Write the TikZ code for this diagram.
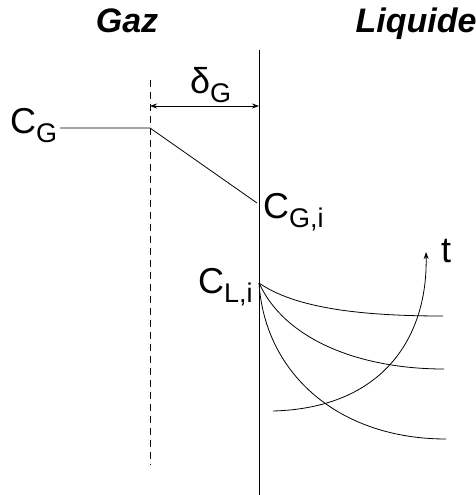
\documentclass[tikz,border=0pt]{standalone}
\usepackage{fontspec}
\setmainfont{Liberation Sans}
\usetikzlibrary{arrows.meta}
\newcommand{\lbl}[2]{\fontsize{36}{40}\selectfont #1\raisebox{-0.26em}{\fontsize{27}{30}\selectfont #2}}
\begin{document}
\begin{tikzpicture}[x=1pt,y=-1pt,
  ln/.style={line width=0.8pt,black},
  title/.style={font=\fontsize{34}{36}\selectfont\bfseries\itshape,inner sep=0pt,anchor=base},
  lab/.style={inner sep=0pt,anchor=base west},
  tip/.style={-{Stealth[length=7pt,width=5pt]}}]
\useasboundingbox (0,0) rectangle (476,495);
\node[title] (gaz) at (127,33) {Gaz};
\node[title] (liq) at (416,33) {Liquide};
% interface and film boundary
\coordinate (itop) at (259,50);
\coordinate (ibot) at (259,495);
\coordinate (ftop) at (150,80);
\coordinate (fbot) at (150,465);
\draw[ln] (itop) -- (ibot);
\draw[ln,dash pattern=on 7pt off 5pt] (ftop) -- (fbot);
% film thickness
\coordinate (dl) at (150,106);
\coordinate (dr) at (259,106);
\draw[ln,{Stealth[length=7pt,width=5pt]}-{Stealth[length=7pt,width=5pt]}] (dl) -- (dr);
\node[lab] (delta) at (190,93) {\lbl{δ}{G}};
% gas profile
\node[lab] (cg) at (10,133) {\lbl{C}{G}};
\coordinate (g0) at (60,128);
\coordinate (g1) at (150,128);
\coordinate (g2) at (257,203);
\draw[ln] (g0) -- (g1) -- (g2);
\node[lab] (cgi) at (263,218) {\lbl{C}{G,i}};
% liquid profiles
\coordinate (li) at (259,283);
\node[lab] (cli) at (198,293) {\lbl{C}{L,i}};
\coordinate (e1) at (443,316);
\coordinate (e2) at (444,369);
\coordinate (e3) at (446,439);
\draw[ln] (li) .. controls (295,308) and (360,316) .. (e1);
\draw[ln] (li) .. controls (285,340) and (360,369) .. (e2);
\draw[ln] (li) .. controls (265,375) and (340,439) .. (e3);
% time arrow
\coordinate (t0) at (273,411);
\coordinate (t1) at (426,252);
\draw[ln,tip] (t0) .. controls (385,408) and (428,335) .. (t1);
\node[inner sep=0pt,font=\fontsize{36}{40}\selectfont,anchor=base] (t) at (446,262) {t};
\end{tikzpicture}
\end{document}
